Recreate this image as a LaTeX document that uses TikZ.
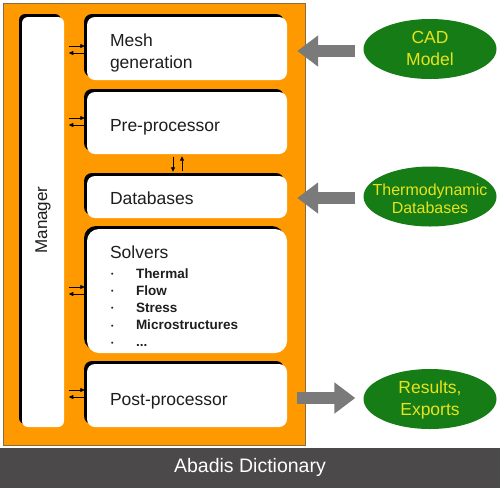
\documentclass[tikz,border=0pt]{standalone}
\usepackage{fontspec}
\setmainfont{Liberation Sans}
\usetikzlibrary{shadows,arrows.meta,shapes.geometric,calc}
\definecolor{orng}{HTML}{FF9900}
\definecolor{orngline}{HTML}{8C6A3C}
\definecolor{ellgreen}{HTML}{167D16}
\definecolor{ylw}{HTML}{E8E21E}
\definecolor{arrgray}{HTML}{7A7A7A}
\definecolor{barbg}{HTML}{4B4949}
\definecolor{txt}{HTML}{1E1E1E}
\newcommand{\bul}{\hspace{1pt}{\fontsize{7}{7}\selectfont\raisebox{1.5pt}{•}}}
\begin{document}
\begin{tikzpicture}[x=1pt,y=-1pt,
  box/.style={fill=white, rounded corners=8pt, minimum width=200pt, text width=154pt,
    inner xsep=23pt, inner ysep=0pt, align=left, text=txt,
    font=\fontsize{17.5}{22}\selectfont,
    drop shadow={shadow xshift=-3pt, shadow yshift=3pt, fill=black, opacity=1}},
  ell/.style={ellipse, fill=ellgreen, minimum width=133pt, minimum height=60pt,
    inner sep=0pt, align=center, text=ylw, font=\fontsize{17.5}{22}\selectfont},
  smallarr/.style={line width=0.8pt, -{Triangle[length=4.5pt,width=4pt]}},
  bigarr/.style={arrgray, line width=12pt, -{Triangle[length=21pt,width=30pt]}}
]
\useasboundingbox (0,0) rectangle (500,488);
% frame and footer
\draw[fill=orng, draw=orngline, line width=0.6pt] (3,3) rectangle (305,445);
\fill[barbg] (0,448) rectangle (500,488);
\node[text=white, font=\fontsize{19.5}{23}\selectfont] (footer) at (250,467) {Abadis Dictionary};

% manager
\node[fill=white, rounded corners=6pt, minimum width=42pt, minimum height=410pt, inner sep=0pt,
  drop shadow={shadow xshift=-3pt, shadow yshift=3pt, fill=black, opacity=1}] (man) at (43,222) {};
\node[rotate=90, text=txt, font=\fontsize{17}{20}\selectfont] (mantext) at (43,220) {Manager};

% boxes
\node[box, text height=0pt, text depth=5pt, minimum height=63pt] (mesh) at (187,48.5) {Mesh\\generation};
\node[box, text height=16pt, text depth=0pt, minimum height=62pt] (pre) at (187,123) {Pre-processor};
\node[box, text height=14pt, text depth=0pt, minimum height=42pt] (db) at (187,197) {Databases};
\node[box, text height=0pt, text depth=66pt, minimum height=124pt, rounded corners=12pt] (solv) at (187,291) {Solvers\\[-2pt]
  {\fontsize{13.5}{17.2}\selectfont\bfseries
  \begin{tabular}[t]{@{}p{26pt}@{}l@{}}
  \bul & Thermal\\
  \bul & Flow\\
  \bul & Stress\\
  \bul & Microstructures\\
  \bul & ...
  \end{tabular}}};
\node[box, text height=19pt, text depth=0pt, minimum height=63pt] (post) at (187,395.5) {Post-processor};

% ellipses
\node[ell, text height=32pt, text depth=0pt] (cad) at (430,49) {CAD\\Model};
\node[ell, text height=33pt, text depth=0pt, inner xsep=-11pt, font=\fontsize{16}{17.5}\selectfont] (thermo) at (430,196.5) {Thermodynamic\\Databases};
\node[ell, text height=32pt, text depth=0pt] (res) at (430,399) {Results,\\Exports};

% block arrows
\draw[bigarr] ($(cad.west)+(-8,2)$) -- ($(mesh.east |- cad.west)+(10,2)$);
\draw[bigarr] ($(thermo.west)+(-8,1.5)$) -- ($(db.east |- thermo.west)+(10,1.5)$);
\draw[bigarr] ($(post.east |- res.west)+(10,-1)$) -- ($(res.west)+(-8,-1)$);

% small manager arrows
\foreach \n/\dy in {mesh/-2.5, pre/-5, solv/-4, post/-5.5}{
  \draw[smallarr] ($(\n.west)+(-18,\dy)$) -- ($(\n.west)+(-2,\dy)$);
  \draw[smallarr] ($(\n.west)+(-2,\dy+7)$) -- ($(\n.west)+(-18,\dy+7)$);
}
% vertical arrows between pre-processor and databases
\draw[smallarr] ($(pre.south)+(-14,3)$) -- ($(db.north)+(-14,-4)$);
\draw[smallarr] ($(db.north)+(-5,-5)$) -- ($(pre.south)+(-5,2)$);
\end{tikzpicture}
\end{document}
